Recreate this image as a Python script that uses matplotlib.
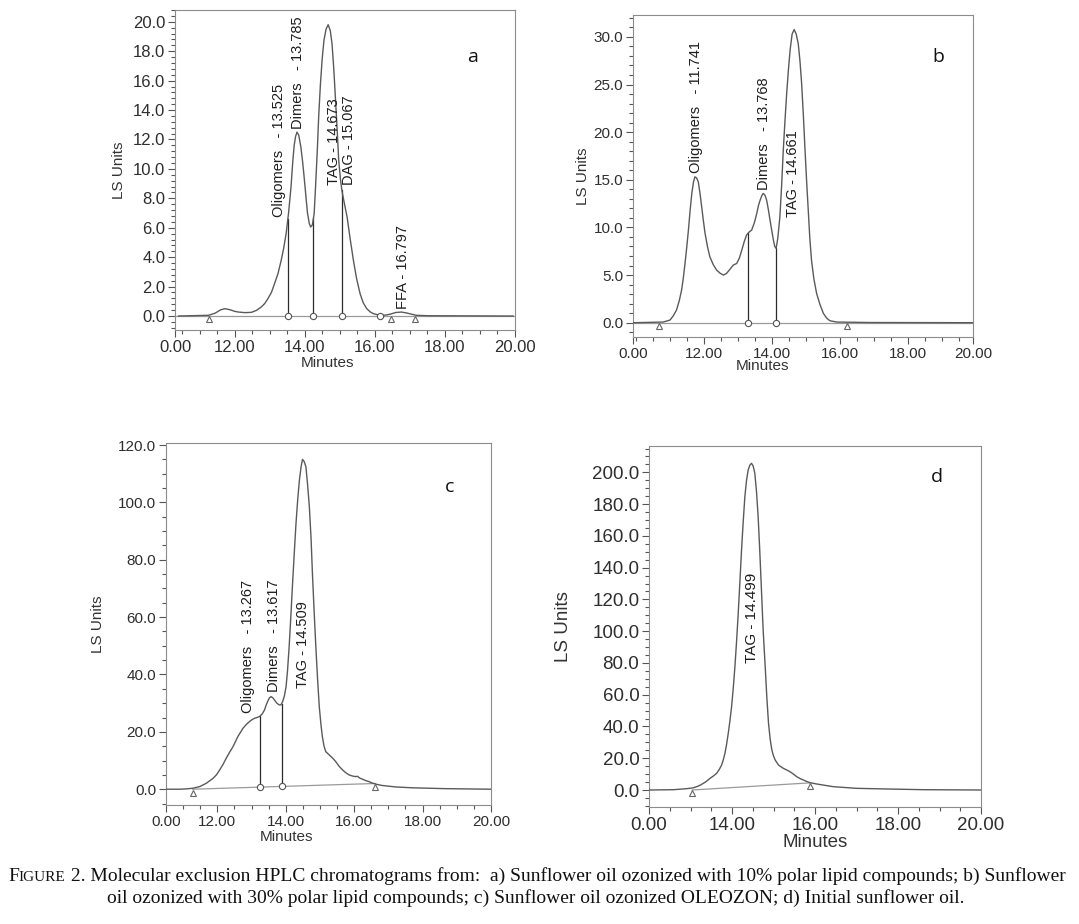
import matplotlib
matplotlib.use('Agg')
import matplotlib.pyplot as plt
import matplotlib.transforms as mtransforms
from matplotlib.ticker import MultipleLocator, FixedLocator, FixedFormatter, FormatStrFormatter
import numpy as np

plt.rcParams['font.family'] = ['Liberation Sans', 'DejaVu Sans']

# ---- panel a: 10% polar lipid compounds ----
a_time = [10.40, 11.26, 11.45, 11.60, 11.73, 11.88, 12.00, 12.11, 12.30, 12.48, 12.62,
          12.76, 12.86, 12.95, 13.05, 13.14, 13.24, 13.33, 13.40, 13.47, 13.54, 13.61,
          13.66, 13.70, 13.74, 13.78, 13.83, 13.89, 13.94, 13.99, 14.04, 14.08, 14.13,
          14.17, 14.22, 14.27, 14.31, 14.36, 14.40, 14.45, 14.50, 14.55, 14.61, 14.67,
          14.73, 14.78, 14.83, 14.88, 14.93, 14.97, 15.02, 15.06, 15.12, 15.21, 15.30,
          15.39, 15.48, 15.58, 15.67, 15.77, 15.87, 15.96, 16.14, 16.30, 16.43, 16.60,
          16.76, 16.88, 16.99, 17.18, 17.50, 19.95]
a_ls = [0.0, 0.05, 0.2, 0.42, 0.5, 0.42, 0.32, 0.27, 0.23, 0.25, 0.38,
        0.61, 0.85, 1.18, 1.6, 2.2, 2.9, 3.79, 4.6, 5.6, 7.0, 8.78,
        10.5, 11.6, 12.2, 12.5, 12.3, 11.5, 10.5, 9.3, 8.0, 7.0, 6.3,
        6.05, 6.2, 6.96, 8.8, 11.27, 13.6, 15.8, 17.5, 18.75, 19.5, 19.8,
        19.4, 18.5, 16.8, 14.67, 12.5, 10.6, 9.3, 8.55, 7.8, 6.73, 5.2,
        3.79, 2.55, 1.52, 0.9, 0.5, 0.28, 0.16, 0.05, 0.06, 0.12, 0.24,
        0.27, 0.22, 0.16, 0.05, 0.02, 0.0]
a_peaks = ['Oligomers   - 13.525', 'Dimers   - 13.785', 'TAG - 14.673', 'DAG - 15.067', 'FFA - 16.797']
a_peak_x = [13.28, 13.82, 14.83, 15.25, 16.80]
a_peak_y = [6.7, 12.7, 8.9, 8.9, 0.5]
a_drops = [13.52, 14.25, 15.06]
a_circles = [13.52, 14.25, 15.06, 16.14]
a_triangles = [11.28, 16.45, 17.15]

# ---- panel b: 30% polar lipid compounds ----
b_time = [9.93, 10.81, 11.01, 11.10, 11.20, 11.28, 11.35, 11.40, 11.45, 11.50, 11.55,
          11.60, 11.65, 11.70, 11.74, 11.79, 11.84, 11.89, 11.94, 11.99, 12.04, 12.11,
          12.18, 12.28, 12.38, 12.48, 12.58, 12.67, 12.77, 12.87, 12.97, 13.05, 13.12,
          13.19, 13.26, 13.33, 13.41, 13.49, 13.56, 13.61, 13.66, 13.71, 13.75, 13.80,
          13.85, 13.90, 13.95, 14.00, 14.05, 14.09, 14.13, 14.18, 14.24, 14.29, 14.34,
          14.39, 14.44, 14.49, 14.54, 14.60, 14.66, 14.72, 14.78, 14.83, 14.88, 14.93,
          14.98, 15.03, 15.08, 15.12, 15.17, 15.24, 15.32, 15.42, 15.52, 15.61, 15.71,
          15.91, 16.89, 19.90]
b_ls = [0.0, 0.07, 0.28, 0.7, 1.33, 2.3, 3.43, 4.7, 6.22, 7.9, 9.72,
        11.8, 13.57, 14.8, 15.31, 15.2, 14.79, 13.6, 12.17, 10.7, 9.37, 8.0,
        6.92, 6.1, 5.52, 5.2, 5.0, 5.17, 5.6, 6.05, 6.22, 6.8, 7.62,
        8.5, 9.2, 9.5, 9.72, 10.5, 11.47, 12.3, 12.87, 13.35, 13.57, 13.4,
        12.87, 11.9, 10.77, 9.7, 8.67, 8.0, 7.8, 8.9, 11.12, 14.3, 18.1,
        21.2, 24.06, 26.5, 28.6, 30.3, 30.77, 30.3, 29.3, 27.5, 25.1, 21.8,
        18.1, 14.6, 11.47, 8.9, 6.57, 4.6, 3.08, 1.9, 0.98, 0.5, 0.21,
        0.07, 0.02, 0.0]
b_peaks = ['Oligomers   - 11.741', 'Dimers   - 13.768', 'TAG - 14.661']
b_peak_x = [11.77, 13.78, 14.64]
b_peak_y = [15.7, 13.9, 11.1]
b_drops = [13.31, 14.12]
b_circles = [13.31, 14.12]
b_triangles = [10.67, 16.20]

# ---- panel c: OLEOZON ----
c_time = [10.50, 10.91, 11.10, 11.29, 11.49, 11.68, 11.88, 11.98, 12.07, 12.17, 12.26,
          12.36, 12.46, 12.53, 12.60, 12.68, 12.75, 12.85, 12.94, 13.02, 13.09, 13.16,
          13.23, 13.31, 13.38, 13.43, 13.47, 13.52, 13.57, 13.62, 13.67, 13.74, 13.81,
          13.86, 13.91, 13.96, 14.01, 14.05, 14.10, 14.15, 14.20, 14.25, 14.30, 14.35,
          14.40, 14.45, 14.49, 14.54, 14.59, 14.64, 14.69, 14.74, 14.78, 14.83, 14.88,
          14.93, 14.98, 15.03, 15.07, 15.12, 15.17, 15.25, 15.32, 15.39, 15.46, 15.56,
          15.66, 15.75, 15.85, 15.95, 16.04, 16.10, 16.16, 16.24, 16.34, 16.43, 16.52,
          16.62, 16.82, 17.21, 17.69, 18.66, 20.0]
c_ls = [0.0, 0.0, 0.12, 0.35, 0.93, 2.09, 3.83, 5.1, 6.74, 8.7, 10.8,
        12.9, 14.87, 16.6, 18.35, 19.9, 21.25, 22.6, 23.58, 24.3, 24.74, 25.0,
        25.32, 26.2, 27.64, 29.4, 30.55, 31.8, 32.29, 31.9, 31.13, 30.0, 29.38,
        29.4, 30.55, 32.5, 35.77, 41.0, 49.71, 60.5, 71.78, 82.5, 92.68, 101.0,
        107.8, 112.5, 115.0, 114.2, 112.4, 106.0, 98.5, 87.5, 75.3, 62.0, 49.7,
        38.5, 28.8, 22.5, 18.35, 15.0, 13.1, 12.2, 11.4, 10.6, 9.64, 8.0,
        6.74, 5.8, 5.0, 4.6, 4.4, 4.5, 3.9, 3.5, 3.0, 2.67, 2.2,
        1.8, 1.3, 0.8, 0.5, 0.2, 0.0]
c_peaks = ['Oligomers   - 13.267', 'Dimers   - 13.617', 'TAG - 14.509']
c_peak_x = [12.89, 13.67, 14.51]
c_peak_y = [26.5, 34.0, 35.2]
c_drops = [13.26, 13.88]
c_circles = [13.26, 13.88]
c_triangles = [11.28, 16.62]
c_base_x = [11.28, 16.62]
c_base_y = [0.0, 2.0]

# ---- panel d: initial sunflower oil ----
d_time = [12.00, 12.59, 12.91, 13.05, 13.15, 13.23, 13.31, 13.39, 13.47, 13.55, 13.63,
          13.69, 13.75, 13.79, 13.83, 13.87, 13.91, 13.95, 13.99, 14.03, 14.07, 14.11,
          14.15, 14.19, 14.23, 14.27, 14.31, 14.35, 14.39, 14.43, 14.47, 14.51, 14.55,
          14.59, 14.63, 14.67, 14.71, 14.75, 14.80, 14.84, 14.88, 14.92, 14.96, 15.00,
          15.04, 15.12, 15.24, 15.32, 15.40, 15.48, 15.56, 15.64, 15.72, 15.80, 15.88,
          16.04, 16.20, 16.44, 17.00, 17.81, 18.61, 20.0]
d_ls = [0.0, 0.2, 0.84, 1.3, 2.1, 3.0, 4.2, 5.6, 7.35, 8.8, 10.5,
        12.8, 15.7, 19.0, 23.1, 28.8, 35.7, 43.5, 52.5, 64.0, 77.6, 93.5,
        111.2, 131.0, 151.1, 169.0, 184.7, 195.0, 201.5, 204.5, 205.7, 204.0, 199.4,
        188.0, 172.1, 150.0, 125.9, 101.0, 77.6, 58.0, 42.0, 32.0, 25.2, 21.5,
        18.9, 15.7, 13.6, 12.6, 11.5, 10.0, 8.4, 7.2, 6.3, 5.4, 4.6,
        3.8, 3.1, 2.1, 1.05, 0.6, 0.2, 0.0]
d_peaks = ['TAG - 14.499']
d_peak_x = [14.47]
d_peak_y = [79.7]
d_drops = []
d_circles = []
d_triangles = [13.04, 15.88]
d_base_x = [13.04, 15.88]
d_base_y = [0.0, 4.5]

CURVE = '#5a5a5a'
DARK = '#2b2b2b'
BASE = '#9a9a9a'

fig = plt.figure(figsize=(10.79, 9.24), dpi=100)


def panel(rect, xlim, ylim, ymaj, ymin, xt, xl, fs_tick, fs_lab, ylab_x, xlab_xy):
    ax = fig.add_axes(rect)
    ax.set_xlim(*xlim)
    ax.set_ylim(*ylim)
    ax.xaxis.set_major_locator(FixedLocator(xt))
    ax.xaxis.set_major_formatter(FixedFormatter(xl))
    ax.xaxis.set_minor_locator(MultipleLocator(0.5))
    ax.yaxis.set_major_locator(MultipleLocator(ymaj))
    ax.yaxis.set_minor_locator(MultipleLocator(ymin))
    ax.yaxis.set_major_formatter(FormatStrFormatter('%.1f'))
    ax.tick_params(which='both', direction='out', color='#555555', width=0.8,
                   labelcolor='#2e2e2e', labelsize=fs_tick, pad=2)
    ax.tick_params(which='major', length=5)
    ax.tick_params(which='minor', length=3)
    for s in ax.spines.values():
        s.set_color('#8c8c8c')
        s.set_linewidth(0.8)
    ax.set_xlabel('Minutes', fontsize=fs_lab, color='#333333', va='top')
    ax.set_ylabel('LS Units', fontsize=fs_lab, color='#333333')
    ax.yaxis.set_label_coords(ylab_x, 0.5)
    ax.xaxis.set_label_coords(*xlab_xy)
    return ax


def draw(ax, t, v, peaks, px, py, drops, circles, triangles, base_x=None, base_y=None, fs=10.5):
    if base_x is None:
        ax.axhline(0, color=BASE, lw=0.9, zorder=1)
        base_x, base_y = [ax.get_xlim()[0], ax.get_xlim()[1]], [0.0, 0.0]
    else:
        ax.plot(base_x, base_y, color=BASE, lw=0.9, zorder=1)
    ax.plot(t, v, color=CURVE, lw=1.0, zorder=3)
    for x in drops:
        ax.plot([x, x], [np.interp(x, base_x, base_y), np.interp(x, t, v)], color=DARK, lw=0.9, zorder=2)
    if circles:
        ax.plot(circles, np.interp(circles, base_x, base_y), 'o', ms=4.5, mfc='white',
                mec='#555555', mew=0.8, zorder=4)
    down = ax.transData + mtransforms.ScaledTranslation(0, -2.5 / 72, fig.dpi_scale_trans)
    ax.plot(triangles, np.interp(triangles, base_x, base_y), '^', ms=5, mfc='white',
            mec='#666666', mew=0.8, zorder=4, transform=down)
    for lab, x, y in zip(peaks, px, py):
        ax.text(x, y, lab, rotation=90, ha='center', va='bottom', fontsize=fs, color='#1e1e1e', zorder=5)


ax_a = panel([175 / 1079, 1 - 330 / 924, 340 / 1079, 320 / 924], (10.3, 20.0), (-0.95, 20.8), 2, 0.4,
             [10.3, 12, 14, 16, 18, 20.0], ['0.00', '12.00', '14.00', '16.00', '18.00', '20.00'],
             12, 11, -0.145, (0.45, -0.081))
draw(ax_a, a_time, a_ls, a_peaks, a_peak_x, a_peak_y, a_drops, a_circles, a_triangles)

ax_b = panel([633 / 1079, 1 - 337 / 924, 340 / 1079, 322 / 924], (9.92, 19.92), (-1.5, 32.3), 5, 1,
             [9.92, 12, 14, 16, 18, 19.92], ['0.00', '12.00', '14.00', '16.00', '18.00', '20.00'],
             11, 11, -0.126, (0.382, -0.068))
draw(ax_b, b_time, b_ls, b_peaks, b_peak_x, b_peak_y, b_drops, b_circles, b_triangles)

ax_c = panel([166 / 1079, 1 - 805 / 924, 325 / 1079, 362 / 924], (10.5, 20.0), (-5.5, 120.7), 20, 5,
             [10.5, 12, 14, 16, 18, 20], ['0.00', '12.00', '14.00', '16.00', '18.00', '20.00'],
             11, 11, -0.188, (0.372, -0.069))
draw(ax_c, c_time, c_ls, c_peaks, c_peak_x, c_peak_y, c_drops, c_circles, c_triangles, c_base_x, c_base_y)

ax_d = panel([649 / 1079, 1 - 807 / 924, 332 / 1079, 361 / 924], (12.0, 20.0), (-10.7, 216.6), 20, 5,
             [12, 14, 16, 18, 20], ['0.00', '14.00', '16.00', '18.00', '20.00'],
             13.5, 13.5, -0.232, (0.5, -0.076))
draw(ax_d, d_time, d_ls, d_peaks, d_peak_x, d_peak_y, d_drops, d_circles, d_triangles, d_base_x, d_base_y, fs=11)

# panel letters
for letter, (x, y) in zip('abcd', [(473, 57), (938, 57), (450, 487), (937, 477)]):
    fig.text(x / 1079, 1 - y / 924, letter, fontsize=14, family='Open Sans', color='#111111',
             ha='center', va='center')

# caption, "FIGURE" in small caps; each line sized to its width in the reference
line1 = [('F', 1.0), ('IGURE', 0.78), (' 2. Molecular exclusion HPLC chromatograms from:  a) Sunflower oil '
                                        'ozonized with 10% polar lipid compounds; b) Sunflower', 1.0)]
line2 = 'oil ozonized with 30% polar lipid compounds; c) Sunflower oil ozonized OLEOZON; d) Initial sunflower oil.'
serif = 'Liberation Serif'
fig.canvas.draw()
r = fig.canvas.get_renderer()


def width_at(s, size):
    t = fig.text(0, 0, s, fontsize=size, family=serif)
    w = t.get_window_extent(r).width
    t.remove()
    return w


fs1 = 12 * 1054 / sum(width_at(s, 12 * k) for s, k in line1)
fs2 = 12 * 855 / width_at(line2, 12)
x0 = 8 / 1079
for piece, k in line1:
    t = fig.text(x0, 1 - 881 / 924, piece, fontsize=fs1 * k, family=serif, ha='left', va='baseline',
                 color='#111111')
    x0 += t.get_window_extent(r).width / fig.bbox.width
fig.text(107 / 1079, 1 - 903 / 924, line2, fontsize=fs2, family=serif, ha='left', va='baseline',
         color='#111111')

fig.savefig('out.png', dpi=100)
